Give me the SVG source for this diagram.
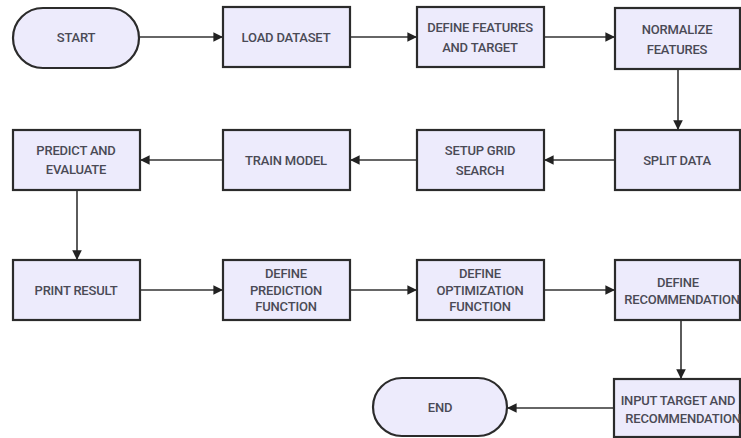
<svg xmlns="http://www.w3.org/2000/svg" width="741" height="438" viewBox="0 0 741 438">
<defs>
<style>
.n{fill:#EDEBFC;stroke:#2b2b2b;stroke-width:2.2}
.t{font-family:Roboto,"Liberation Sans",sans-serif;font-size:13px;font-weight:500;fill:#4a4a55;text-anchor:middle;letter-spacing:-0.2px}
.c{stroke:#333;stroke-width:1.6;fill:none;marker-end:url(#a)}
</style>
<marker id="a" viewBox="0 0 10 10" refX="9" refY="5" markerWidth="6" markerHeight="6" orient="auto"><path d="M0,0L10,5L0,10z" fill="#222"/></marker>
</defs>
<rect width="741" height="438" fill="#fff"/>
<g id="connectors">
<path class="c" d="M140,37H222"/>
<path class="c" d="M350,37H416"/>
<path class="c" d="M544,37H614"/>
<path class="c" d="M678,69V129"/>
<path class="c" d="M615,160H545"/>
<path class="c" d="M417,160H351"/>
<path class="c" d="M223,160H141"/>
<path class="c" d="M77,190V259"/>
<path class="c" d="M140,290H222"/>
<path class="c" d="M350,290H416"/>
<path class="c" d="M544,290H614"/>
<path class="c" d="M681,320V378"/>
<path class="c" d="M614,408H508"/>
</g>
<g id="start"><rect class="n" x="13" y="8" width="126" height="60" rx="30"/><text class="t" x="76" y="42">START</text></g>
<g id="load"><rect class="n" x="223" y="7" width="127" height="60"/><text class="t" x="286" y="42">LOAD DATASET</text></g>
<g id="define-features"><rect class="n" x="417" y="7" width="127" height="60"/><text class="t" x="480" y="32">DEFINE FEATURES</text><text class="t" x="480" y="52">AND TARGET</text></g>
<g id="normalize"><rect class="n" x="615" y="8" width="125" height="61"/><text class="t" x="677" y="34">NORMALIZE</text><text class="t" x="677" y="54">FEATURES</text></g>
<g id="split"><rect class="n" x="615" y="130" width="125" height="60"/><text class="t" x="677" y="165">SPLIT DATA</text></g>
<g id="setup"><rect class="n" x="417" y="130" width="127" height="60"/><text class="t" x="480" y="155">SETUP GRID</text><text class="t" x="480" y="175">SEARCH</text></g>
<g id="train"><rect class="n" x="223" y="130" width="127" height="60"/><text class="t" x="286" y="165">TRAIN MODEL</text></g>
<g id="predict"><rect class="n" x="13" y="130" width="127" height="60"/><text class="t" x="76" y="155">PREDICT AND</text><text class="t" x="76" y="174">EVALUATE</text></g>
<g id="print"><rect class="n" x="13" y="260" width="127" height="60"/><text class="t" x="76" y="295">PRINT RESULT</text></g>
<g id="def-pred"><rect class="n" x="223" y="260" width="127" height="60"/><text class="t" x="286" y="278">DEFINE</text><text class="t" x="286" y="295">PREDICTION</text><text class="t" x="286" y="311">FUNCTION</text></g>
<g id="def-opt"><rect class="n" x="417" y="260" width="127" height="60"/><text class="t" x="480" y="278">DEFINE</text><text class="t" x="480" y="295">OPTIMIZATION</text><text class="t" x="480" y="311">FUNCTION</text></g>
<g id="def-rec"><rect class="n" x="615" y="260" width="125" height="60"/><text class="t" x="678" y="287">DEFINE</text><text class="t" x="682" y="304">RECOMMENDATION</text></g>
<g id="input"><rect class="n" x="614" y="379" width="126" height="58"/><text class="t" x="678" y="405">INPUT TARGET AND</text><text class="t" x="683" y="423">RECOMMENDATION</text></g>
<g id="end"><rect class="n" x="373" y="378" width="134" height="58" rx="29"/><text class="t" x="440" y="412">END</text></g>
</svg>
